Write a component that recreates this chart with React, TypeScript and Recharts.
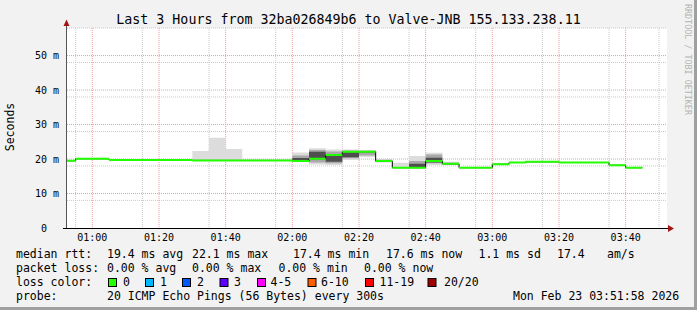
import { ComposedChart, Line, Area, XAxis, YAxis, CartesianGrid } from 'recharts'

// minutes since 00:00, one RRD step (5 min) per bin
const binStart = [
  52.4, 55, 60, 65, 70, 75, 80, 85, 90, 95, 100, 105, 110, 115, 120, 125, 130, 135,
  140, 145, 150, 155, 160, 165, 170, 175, 180, 185, 190, 195, 200, 205, 210, 215, 220,
]
const lastBinEnd = 225

const medianRtt = [
  19.5, 20.1, 20.1, 19.7, 19.7, 19.7, 19.7, 19.7, 19.6, 19.6, 19.6, 19.6, 19.6, 19.6, 19.4, 20.1, 21.2, 22.1,
  22.1, 19.4, 17.5, 17.5, 19.4, 18.6, 17.5, 17.5, 18.5, 19.0, 19.2, 19.2, 19.0, 19.0, 19.0, 18.2, 17.5,
]

type Band = [number, number] | null

// smoke: outer (all pings), mid, core
const smokeOuter: Band[] = [
  null, null, null, null, null, null, null, null, [19.6, 22.3], [19.6, 26.2], [19.6, 22.9], null, null, null,
  [19.3, 21.9], [18.4, 23.1], [18.3, 22.8], [19.7, 22.8], [20.6, 22.6], [19.0, 20.0], [17.5, 18.9], [17.5, 20.9],
  [18.3, 21.8], [18.3, 19.2], null, null, null, null, null, null, null, null, null, null, null,
]
const smokeMid: Band[] = [
  null, null, null, null, null, null, null, null, null, null, null, null, null, null,
  [19.4, 21.0], [19.0, 22.6], [18.8, 22.2], [20.2, 22.5], [21.0, 22.4], [19.2, 19.8], null, [17.6, 19.4],
  [18.8, 21.3], [18.5, 18.9], null, null, null, null, null, null, null, null, null, null, null,
]
const smokeCore: Band[] = [
  null, null, null, null, null, null, null, null, null, null, null, null, null, null,
  [19.5, 20.3], [20.2, 22.1], [19.2, 21.0], [20.5, 21.9], null, null, null, [17.7, 18.6],
  [19.0, 20.4], null, null, null, null, null, null, null, null, null, null, null, null,
]

const timeTicks = [60, 80, 100, 120, 140, 160, 180, 200, 220]
const minorTimeGrid = [55, 65, 70, 75, 85, 90, 95, 105, 110, 115, 125, 130, 135, 145, 150, 155, 165, 170, 175, 185, 190, 195, 205, 210, 215, 225, 230]
const valueTicks = [0, 10, 20, 30, 40, 50]
const majorValueGrid = [10, 20, 30, 40, 50]
const minorValueGrid = [2, 4, 6, 8, 12, 14, 16, 18, 22, 24, 26, 28, 32, 34, 36, 38, 42, 44, 46, 48, 52, 54, 56, 58]

const legendRows: { y: number; items: [string, number][] }[] = [
  { y: 258, items: [['median rtt:', 16], ['19.4 ms avg', 107], ['22.1 ms max', 192], ['17.4 ms min', 293], ['17.6 ms now', 386], ['1.1 ms sd', 478.5], ['17.4', 557], ['am/s', 607]] },
  { y: 272, items: [['packet loss:', 16], ['0.00 % avg', 107], ['0.00 % max', 192], ['0.00 % min', 278.5], ['0.00 % now', 364]] },
  { y: 286, items: [['loss color:', 16]] },
  { y: 300, items: [['probe:', 16], ['20 ICMP Echo Pings (56 Bytes) every 300s', 107], ['Mon Feb 23 03:51:58 2026', 513]] },
]
const lossLabels = ['0', '1', '2', '3', '4-5', '6-10', '11-19', '20/20']
const lossColors = ['#26ff00', '#00b8ff', '#0059ff', '#5e00ff', '#ff00ff', '#ff5e00', '#ff0000', '#a10000']
const lossSwatchX = [108, 145, 182, 219.5, 257, 307.5, 365, 427.5]
const lossLabelX = [123, 160, 197, 234, 270.5, 321, 379.5, 444]

const mono = '"DejaVu Sans Mono", monospace'

const rows: Record<string, unknown>[] = []
binStart.forEach((s, i) => {
  const e = i + 1 < binStart.length ? binStart[i + 1] : lastBinEnd
  const v = { median: medianRtt[i], edge: medianRtt[i], outer: smokeOuter[i], mid: smokeMid[i], core: smokeCore[i] }
  rows.push({ t: s, ...v }, { t: e, ...v }, { t: e })
})

const hhmm = (t: number) => {
  const h = Math.floor(t / 60)
  const m = Math.round(t % 60)
  return `${String(h).padStart(2, '0')}:${String(m).padStart(2, '0')}`
}

function YTick({ x, y, payload }: any) {
  const v = payload.value
  return (
    <text x={v === 0 ? x - 12 : x} y={y} dy="0.36em" textAnchor="end" fontSize={10} fontFamily={mono} fill="#000">
      {v === 0 ? '0' : `${v} m`}
    </text>
  )
}

export default function App() {
  return (
    <div style={{ position: 'absolute', left: 0, top: 0, width: 697, height: 310, background: '#f2f2f2', overflow: 'hidden' }}>
      <ComposedChart width={697} height={310} data={rows} margin={{ top: 28, right: 30, left: 0, bottom: 0 }}>
        <CartesianGrid horizontal={false} vertical={false} fill="#ffffff" fillOpacity={1} />
        <CartesianGrid horizontalValues={minorValueGrid} verticalValues={minorTimeGrid} stroke="#c8c8c8" strokeDasharray="1 1" />
        <CartesianGrid horizontalValues={majorValueGrid} verticalValues={timeTicks} stroke="#f29a9a" strokeDasharray="1 1" />
        <XAxis
          dataKey="t"
          type="number"
          domain={[52.4, 232.4]}
          ticks={timeTicks}
          tickFormatter={hhmm}
          allowDataOverflow
          axisLine={false}
          tickLine={false}
          tickSize={4}
          height={82}
          tick={{ fontSize: 10, fontFamily: mono, fill: '#000' }}
        />
        <YAxis
          type="number"
          domain={[0, 58]}
          ticks={valueTicks}
          allowDataOverflow
          axisLine={false}
          tickLine={false}
          width={67}
          tick={<YTick />}
        />
        <Area dataKey="outer" type="linear" stroke="none" fill="#dcdcdc" fillOpacity={1} isAnimationActive={false} dot={false} activeDot={false} />
        <Area dataKey="mid" type="linear" stroke="none" fill="#a8a8a8" fillOpacity={1} isAnimationActive={false} dot={false} activeDot={false} />
        <Area dataKey="core" type="linear" stroke="none" fill="#4f4f4f" fillOpacity={1} isAnimationActive={false} dot={false} activeDot={false} />
        <Line dataKey="edge" type="linear" stroke="#000" strokeWidth={1} connectNulls dot={false} activeDot={false} isAnimationActive={false} />
        <Line dataKey="median" type="linear" stroke="#22ff00" strokeWidth={2} dot={false} activeDot={false} isAnimationActive={false} />
      </ComposedChart>

      <svg width={697} height={310} style={{ position: 'absolute', left: 0, top: 0, pointerEvents: 'none' }}>
        <line x1={66.5} y1={22} x2={66.5} y2={228} stroke="#555" />
        <polygon points="63.5,26 69.5,26 66.5,19.5" fill="#a31515" />
        <line x1={63} y1={228.5} x2={670} y2={228.5} stroke="#000" />
        <polygon points="668,225 668,232 674,228.5" fill="#a31515" />

        <text x={348.5} y={24} textAnchor="middle" fontSize={13.3} fontFamily={mono} fill="#000">
          Last 3 Hours from 32ba026849b6 to Valve-JNB 155.133.238.11
        </text>
        <text transform="translate(14,127) rotate(-90)" textAnchor="middle" fontSize={11.5} fontFamily={mono} fill="#000">
          Seconds
        </text>
        <text transform="translate(685,4) rotate(90)" fontSize={8.4} fontFamily={mono} fill="#b4b4b4">
          RRDTOOL / TOBI OETIKER
        </text>

        {legendRows.map(r =>
          r.items.map(([s, x]) => (
            <text key={`${r.y}-${x}`} x={x} y={r.y} fontSize={11.5} fontFamily={mono} fill="#000" style={{ whiteSpace: 'pre' }}>
              {s}
            </text>
          ))
        )}
        {lossLabels.map((l, i) => (
          <g key={l}>
            <rect x={lossSwatchX[i] + 0.5} y={278.5} width={8} height={8} fill={lossColors[i]} stroke="#000" strokeWidth={1} />
            <text x={lossLabelX[i]} y={286} fontSize={11.5} fontFamily={mono} fill="#000">
              {l}
            </text>
          </g>
        ))}

        <rect x={694} y={0} width={3} height={310} fill="#a0a0a0" />
        <rect x={0} y={307} width={697} height={3} fill="#a0a0a0" />
      </svg>
    </div>
  )
}
